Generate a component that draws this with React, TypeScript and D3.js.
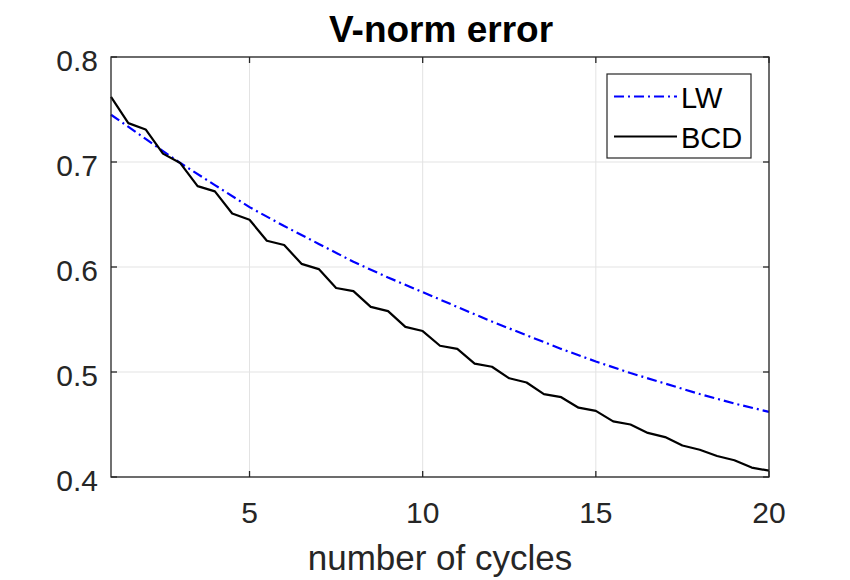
import * as d3 from "d3";

// LW error at each whole cycle
const lwCycles = [1, 2, 3, 4, 5, 6, 7, 8, 9, 10, 11, 12, 13, 14, 15, 16, 17, 18, 19, 20];
const lwError = [
  0.745, 0.722, 0.699, 0.678, 0.657, 0.639, 0.622, 0.605, 0.59, 0.576,
  0.562, 0.548, 0.535, 0.522, 0.51, 0.499, 0.489, 0.479, 0.47, 0.462,
];

// BCD error sampled every half cycle
const bcdCycles = [
  1, 1.5, 2, 2.5, 3, 3.5, 4, 4.5, 5, 5.5, 6, 6.5, 7, 7.5, 8, 8.5, 9, 9.5, 10, 10.5,
  11, 11.5, 12, 12.5, 13, 13.5, 14, 14.5, 15, 15.5, 16, 16.5, 17, 17.5, 18, 18.5, 19, 19.5, 20,
];
const bcdError = [
  0.762, 0.737, 0.731, 0.708, 0.699, 0.677, 0.672, 0.651, 0.645, 0.625,
  0.621, 0.603, 0.598, 0.58, 0.577, 0.562, 0.558, 0.543, 0.539, 0.525,
  0.522, 0.508, 0.505, 0.494, 0.49, 0.479, 0.476, 0.466, 0.463, 0.453,
  0.45, 0.442, 0.438, 0.43, 0.426, 0.42, 0.416, 0.409, 0.406,
];

const xTicks = [5, 10, 15, 20];
const yTicks = [0.4, 0.5, 0.6, 0.7, 0.8];

const WIDTH = 850;
const HEIGHT = 580;
const MARGIN = { top: 57, right: 81, bottom: 103, left: 111 };
const PLOT_WIDTH = WIDTH - MARGIN.left - MARGIN.right;
const PLOT_HEIGHT = HEIGHT - MARGIN.top - MARGIN.bottom;
const AXIS_COLOR = "#262626";
const GRID_COLOR = "#e3e3e3";
const FONT = "'Liberation Sans', Arial, Helvetica, sans-serif";
const TICK_LEN = 6;

type Point = { x: number; y: number };

export default function App() {
  const x = d3.scaleLinear().domain([1, 20]).range([0, PLOT_WIDTH]);
  const y = d3.scaleLinear().domain([0.4, 0.8]).range([PLOT_HEIGHT, 0]);
  const line = d3
    .line<Point>()
    .x((p) => x(p.x))
    .y((p) => y(p.y));

  const lwPoints = lwCycles.map((c, i) => ({ x: c, y: lwError[i] }));
  const bcdPoints = bcdCycles.map((c, i) => ({ x: c, y: bcdError[i] }));

  const legendX = 607 - MARGIN.left;
  const legendY = 74 - MARGIN.top;

  return (
    <svg
      width={WIDTH}
      height={HEIGHT}
      viewBox={`0 0 ${WIDTH} ${HEIGHT}`}
      style={{ position: "absolute", left: 0, top: 0, display: "block" }}
      fontFamily={FONT}
    >
      <rect x="0" y="0" width={WIDTH} height={HEIGHT} fill="#ffffff" />
      <text x={MARGIN.left + PLOT_WIDTH / 2 + 1} y={42} textAnchor="middle" fontSize="37" fontWeight="700" fill="#000">
        V-norm error
      </text>
      <g transform={`translate(${MARGIN.left} ${MARGIN.top})`}>
        {xTicks.map((t) => (
          <line key={`gx${t}`} x1={x(t)} x2={x(t)} y1={0} y2={PLOT_HEIGHT} stroke={GRID_COLOR} strokeWidth="1" />
        ))}
        {yTicks.map((t) => (
          <line key={`gy${t}`} x1={0} x2={PLOT_WIDTH} y1={y(t)} y2={y(t)} stroke={GRID_COLOR} strokeWidth="1" />
        ))}

        <path d={line(lwPoints) ?? undefined} fill="none" stroke="#0000ff" strokeWidth="2.2" strokeDasharray="10 4 2 4" />
        <path d={line(bcdPoints) ?? undefined} fill="none" stroke="#000000" strokeWidth="2.2" strokeLinejoin="round" />

        <rect x={0} y={0} width={PLOT_WIDTH} height={PLOT_HEIGHT} fill="none" stroke={AXIS_COLOR} strokeWidth="1.3" />
        {xTicks.map((t) => (
          <g key={`tx${t}`}>
            <line x1={x(t)} x2={x(t)} y1={PLOT_HEIGHT} y2={PLOT_HEIGHT - TICK_LEN} stroke={AXIS_COLOR} strokeWidth="1.3" />
            <line x1={x(t)} x2={x(t)} y1={0} y2={TICK_LEN} stroke={AXIS_COLOR} strokeWidth="1.3" />
            <text x={x(t)} y={PLOT_HEIGHT + 46} textAnchor="middle" fontSize="30" fill="#262626">
              {t}
            </text>
          </g>
        ))}
        {yTicks.map((t) => (
          <g key={`ty${t}`}>
            <line x1={0} x2={TICK_LEN} y1={y(t)} y2={y(t)} stroke={AXIS_COLOR} strokeWidth="1.3" />
            <line x1={PLOT_WIDTH} x2={PLOT_WIDTH - TICK_LEN} y1={y(t)} y2={y(t)} stroke={AXIS_COLOR} strokeWidth="1.3" />
            <text x={-13} y={y(t) + 13.5} textAnchor="end" fontSize="30" fill="#262626">
              {d3.format(".1f")(t)}
            </text>
          </g>
        ))}

        <g transform={`translate(${legendX} ${legendY})`}>
          <rect x={0} y={0} width={144} height={84} fill="#ffffff" stroke={AXIS_COLOR} strokeWidth="1.2" />
          <line x1={7} x2={70} y1={22.5} y2={22.5} stroke="#0000ff" strokeWidth="2.2" strokeDasharray="10 4 2 4" />
          <text x={74} y={34} fontSize="29" fill="#000">
            LW
          </text>
          <line x1={7} x2={70} y1={62.5} y2={62.5} stroke="#000000" strokeWidth="2.2" />
          <text x={74} y={74} fontSize="29" fill="#000">
            BCD
          </text>
        </g>
      </g>
      <text x={MARGIN.left + PLOT_WIDTH / 2} y={570} textAnchor="middle" fontSize="35" fill="#262626">
        number of cycles
      </text>
    </svg>
  );
}
